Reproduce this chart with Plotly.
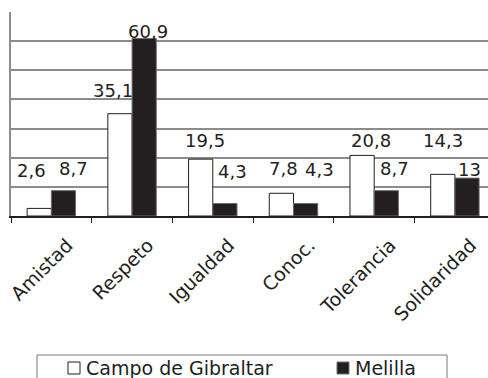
import plotly.graph_objects as go

categories = ["Amistad", "Respeto", "Igualdad", "Conoc.", "Tolerancia", "Solidaridad"]
campo = [2.6, 35.1, 19.5, 7.8, 20.8, 14.3]
melilla = [8.7, 60.9, 4.3, 4.3, 8.7, 13]
campo_labels = ["2,6", "35,1", "19,5", "7,8", "20,8", "14,3"]
melilla_labels = ["8,7", "60,9", "4,3", "4,3", "8,7", "13"]
series_names = ["Campo de Gibraltar", "Melilla"]

# label nudges (px) relative to the top centre of each bar
campo_offsets = [(-8, 38), (-7, 23), (4, 19), (2, 25), (9, 15), (0, 34)]
melilla_offsets = [(10, 22), (4, 7), (8, 32), (14, 34), (8, 22), (2, 9)]

FONT = "DejaVu Sans"
INK = "#231f20"
GRID = "#8c8c8c"
W, H = 488, 378
ML, MR, MT, MB = 11, 0, 12, 162


def px_x(x):
    return (x - ML) / (W - ML - MR)


def px_y(y):
    return (H - MB - y) / (H - MT - MB)


fig = go.Figure()
fig.add_trace(go.Bar(
    name=series_names[0], x=categories, y=campo,
    marker=dict(color="white", line=dict(color=INK, width=1)),
))
fig.add_trace(go.Bar(
    name=series_names[1], x=categories, y=melilla,
    marker=dict(color=INK, line=dict(color="#6e6e6e", width=1)),
))

bar_half = 0.15  # half of one bar's width in category units
annotations = []
for i, cat in enumerate(categories):
    for vals, labels, offs, side in ((campo, campo_labels, campo_offsets, -1),
                                     (melilla, melilla_labels, melilla_offsets, 1)):
        dx, dy = offs[i]
        annotations.append(dict(
            x=i + side * bar_half, y=vals[i], xref="x", yref="y",
            text=labels[i], showarrow=False,
            xanchor="center", yanchor="middle",
            xshift=dx, yshift=dy,
            font=dict(family=FONT, size=18, color=INK),
        ))

# legend box drawn by hand, running off the bottom edge
shapes = [dict(
    type="rect", xref="paper", yref="paper",
    x0=px_x(37), x1=px_x(447), y0=px_y(355), y1=px_y(395),
    line=dict(color="#7a7a7a", width=1), fillcolor="white", layer="above",
)]
legend_items = [(68, "white", INK), (337, INK, "#6e6e6e")]
for (sx, fill, edge), name in zip(legend_items, series_names):
    shapes.append(dict(
        type="rect", xref="paper", yref="paper",
        x0=px_x(sx), x1=px_x(sx + 12), y0=px_y(362), y1=px_y(374),
        line=dict(color=edge if fill == INK else INK, width=1), fillcolor=fill,
        layer="above",
    ))
    annotations.append(dict(
        x=px_x(sx + 16), y=px_y(368), xref="paper", yref="paper",
        text=name, showarrow=False, xanchor="left", yanchor="middle",
        font=dict(family=FONT, size=19, color=INK),
    ))

fig.update_layout(
    width=W, height=H,
    margin=dict(l=ML, r=MR, t=MT, b=MB, autoexpand=False),
    paper_bgcolor="white", plot_bgcolor="white",
    barmode="group", bargap=0.4, bargroupgap=0,
    font=dict(family=FONT, size=18, color=INK),
    showlegend=False,
    annotations=annotations,
    shapes=shapes,
    xaxis=dict(
        type="category", range=[-0.5, 5.41], automargin=False,
        showline=True, linecolor=INK, linewidth=1.5,
        ticks="outside", tickson="boundaries", ticklen=5, tickcolor=INK, tickwidth=1,
        tickangle=-45, tickfont=dict(family=FONT, size=19, color=INK),
        ticklabelshift=16, ticklabelstandoff=9,
        showgrid=False,
    ),
    yaxis=dict(
        range=[0, 70], dtick=10, showticklabels=False, automargin=False,
        showgrid=True, gridcolor=GRID, gridwidth=1.5,
        showline=True, linecolor=GRID, linewidth=2,
        zeroline=False, ticks="",
    ),
)

fig.write_html("out.html")
